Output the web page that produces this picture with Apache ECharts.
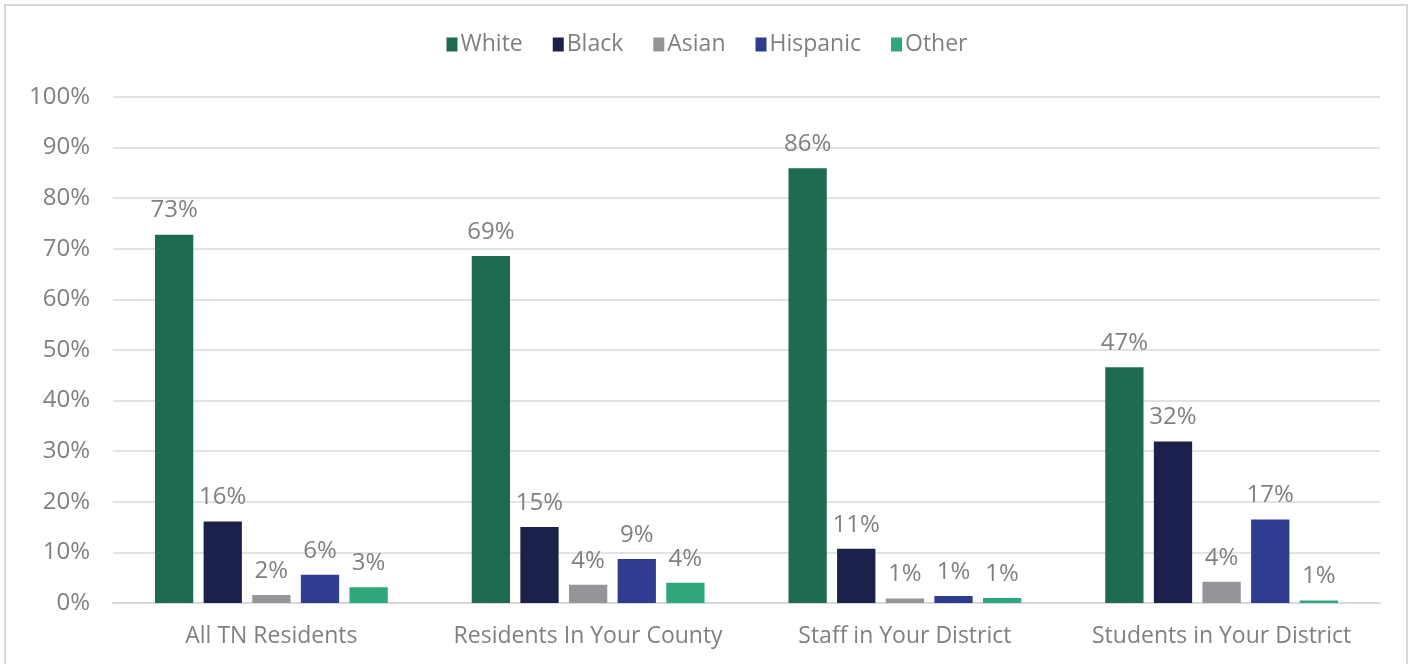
<!DOCTYPE html>
<html>
<head>
<meta charset="utf-8">
<script src="https://cdn.jsdelivr.net/npm/echarts@6/dist/echarts.min.js"></script>
<style>
  html, body { margin: 0; padding: 0; background: #fff; }
  #frame { position: absolute; left: 4px; top: 4px; width: 1404px; height: 670px; border: 2px solid #d9d9d9; box-sizing: border-box; }
  #chart { position: absolute; left: 0; top: 0; width: 1414px; height: 664px; }
</style>
</head>
<body>
<div id="frame"></div>
<div id="chart"></div>
<script>
// categories and series values (percent)
const categories = ['All TN Residents', 'Residents In Your County', 'Staff in Your District', 'Students in Your District']
const seriesNames = ['White', 'Black', 'Asian', 'Hispanic', 'Other']
const white = [72.8, 68.6, 85.9, 46.6]
const black = [16.1, 15.0, 10.7, 31.9]
const asian = [1.6, 3.6, 0.9, 4.2]
const hispanic = [5.6, 8.7, 1.4, 16.5]
const other = [3.1, 4.0, 1.0, 0.5]
const colors = ['#1f6b50', '#1b214a', '#939598', '#2e3d8f', '#2ea87b']

const textColor = '#808080'
const fontFamily = '"Open Sans", "Noto Sans", sans-serif'

const chart = echarts.init(document.getElementById('chart'))

const values = [white, black, asian, hispanic, other]
const series = seriesNames.map((name, i) => ({
  name: name,
  type: 'bar',
  data: values[i],
  barGap: '27%',
  barCategoryGap: '26.5%',
  itemStyle: { color: colors[i] },
  label: {
    show: true,
    position: 'top',
    distance: 12,
    color: textColor,
    fontFamily: fontFamily,
    fontSize: 24,
    formatter: p => Math.round(p.value) + '%'
  }
}))

const option = {
  animation: false,
  color: colors,
  legend: {
    top: 28,
    left: 'center',
    itemWidth: 11,
    itemHeight: 14,
    itemGap: 30,
    icon: 'rect',
    textStyle: { color: textColor, fontFamily: fontFamily, fontSize: 23, padding: [0, 0, 0, -2] },
    data: seriesNames
  },
  grid: { left: 113, right: 34, top: 97, bottom: 61 },
  xAxis: {
    type: 'category',
    data: categories,
    axisLine: { lineStyle: { color: '#d9d9d9', width: 2 } },
    axisTick: { show: false },
    axisLabel: { interval: 0, color: textColor, fontFamily: fontFamily, fontSize: 23, margin: 22 }
  },
  yAxis: {
    type: 'value',
    min: 0,
    max: 100,
    interval: 10,
    axisLine: { show: false },
    axisTick: { show: false },
    splitLine: { lineStyle: { color: '#e3e3e3', width: 2 } },
    axisLabel: { color: textColor, fontFamily: fontFamily, fontSize: 24, margin: 23, formatter: '{value}%' }
  },
  series: series
}

chart.setOption(option)
</script>
</body>
</html>
